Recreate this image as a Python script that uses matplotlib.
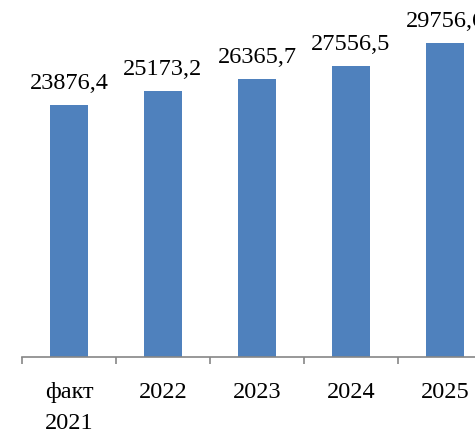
import numpy as np
import matplotlib.pyplot as plt
from matplotlib.ticker import FixedLocator

# data
categories = ["факт\n2021", "2022", "2023", "2024", "2025"]
values = [23876.4, 25173.2, 26365.7, 27556.5, 29756.6]
value_labels = ["23876,4", "25173,2", "26365,7", "27556,5", "29756,6"]

plt.rcParams['font.family'] = ['Liberation Serif', 'DejaVu Serif']

fig = plt.figure(figsize=(4.75, 4.33), dpi=100)
# the right end of the chart is cut off in the reference
ax = fig.add_axes([22 / 475, 76 / 433, 470 / 475, 357 / 433])

x = np.arange(len(values))
bars = ax.bar(x, values, width=0.4, color="#4F81BD", zorder=2)

for rect, lab in zip(bars, value_labels):
    ax.annotate(lab, (rect.get_x() + rect.get_width() / 2, rect.get_height()),
                xytext=(0, 8), textcoords="offset points",
                ha="center", va="bottom", fontsize=17.5)

ax.set_xlim(-0.5, len(values) - 0.5)
ax.set_ylim(0, 33840)

ax.set_xticks(x)
ax.set_xticklabels(categories, fontsize=17.5, linespacing=1.6)
ax.xaxis.set_minor_locator(FixedLocator(np.arange(-0.5, len(values), 1.0)))
ax.tick_params(axis="x", which="major", length=0, pad=18)
ax.tick_params(axis="x", which="minor", length=5, width=1.2, color="#868686")

ax.set_yticks([])
for side in ["top", "right", "left"]:
    ax.spines[side].set_visible(False)
ax.spines["bottom"].set_color("#868686")
ax.spines["bottom"].set_linewidth(1.2)

fig.savefig("out.png", dpi=100)
